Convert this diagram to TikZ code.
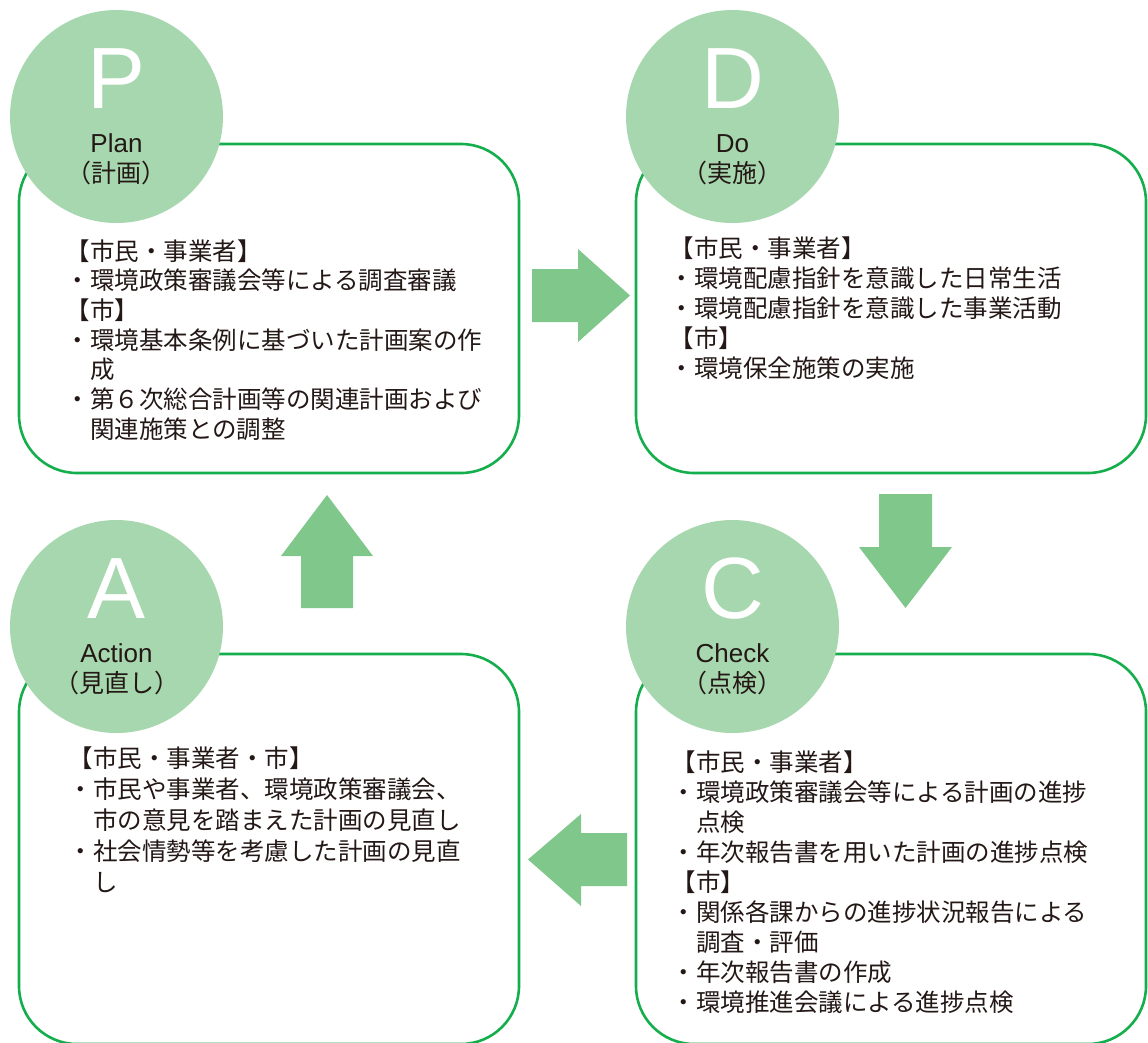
\documentclass[tikz,border=0pt]{standalone}
\usepackage{fontspec}
\setmainfont{Noto Sans CJK JP}
\newfontfamily\latinfont{Liberation Sans}
\definecolor{circfill}{RGB}{167,215,174}
\definecolor{arrfill}{RGB}{127,199,139}
\definecolor{boxline}{RGB}{20,174,76}
\definecolor{ink}{RGB}{35,24,21}
\begin{document}
\begin{tikzpicture}[x=1pt,y=-1pt,
  pbox/.style={draw=boxline, line width=2.6pt, rounded corners=58pt, inner sep=0pt, outer sep=0pt, fill=white},
  pcirc/.style={circle, fill=circfill, minimum size=213pt, inner sep=0pt},
  bigletter/.style={font=\latinfont\fontsize{87}{87}\selectfont, text=white, inner sep=0pt, anchor=base},
  engname/.style={font=\latinfont\fontsize{26}{30}\selectfont, text=ink, inner sep=0pt, anchor=base},
  jpname/.style={font=\fontsize{25}{30}\selectfont, text=ink, inner sep=0pt, anchor=base},
  bodytext/.style={font=\fontsize{24.5}{30}\selectfont, text=ink, inner sep=0pt, anchor=base west},
  blockarrow/.style={fill=arrfill, draw=none}]
\useasboundingbox (0,0) rectangle (1148,1042);

% boxes
\node[pbox, minimum width=500pt, minimum height=329pt] (Pbox) at (269,308.5) {};
\node[pbox, minimum width=510pt, minimum height=329pt] (Dbox) at (891,308.5) {};
\node[pbox, minimum width=500pt, minimum height=390pt] (Abox) at (269,849) {};
\node[pbox, minimum width=510pt, minimum height=390pt] (Cbox) at (891,849) {};

% circles
\node[pcirc] (Pc) at (116.5,116.5) {};
\node[pcirc] (Dc) at (732.5,116.5) {};
\node[pcirc] (Ac) at (116.5,626.5) {};
\node[pcirc] (Cc) at (732.5,626.5) {};

\node[bigletter] (Pl) at (116.5,108) {P};
\node[engname] (Pe) at (116.5,152) {Plan};
\node[jpname] (Pj) at (116.5,182.5) {（計画）};

\node[bigletter] (Dl) at (732.5,108) {D};
\node[engname] (De) at (732.5,152) {Do};
\node[jpname] (Dj) at (732.5,182.5) {（実施）};

\node[bigletter] (Al) at (116.5,618) {A};
\node[engname] (Ae) at (116.5,662) {Action};
\node[jpname] (Aj) at (116.5,692.5) {（見直し）};

\node[bigletter] (Cl) at (732.5,618) {C};
\node[engname] (Ce) at (732.5,662) {Check};
\node[jpname] (Cj) at (732.5,692.5) {（点検）};

% body texts
\foreach \t [count=\i] in {【市民・事業者】,・環境政策審議会等による調査審議,【市】,・環境基本条例に基づいた計画案の作,　成,・第６次総合計画等の関連計画および,　関連施策との調整}
  \node[bodytext] (pt\i) at (65.5,{260+29.7*(\i-1)}) {\t};

\foreach \t [count=\i] in {【市民・事業者】,・環境配慮指針を意識した日常生活,・環境配慮指針を意識した事業活動,【市】,・環境保全施策の実施}
  \node[bodytext] (dt\i) at (669.5,{257+30*(\i-1)}) {\t};

\foreach \t [count=\i] in {【市民・事業者】,・環境政策審議会等による計画の進捗,　点検,・年次報告書を用いた計画の進捗点検,【市】,・関係各課からの進捗状況報告による,　調査・評価,・年次報告書の作成,・環境推進会議による進捗点検}
  \node[bodytext] (ct\i) at (671.5,{771+30.1*(\i-1)}) {\t};

\foreach \t [count=\i] in {【市民・事業者・市】,・市民や事業者、環境政策審議会、,　市の意見を踏まえた計画の見直し,・社会情勢等を考慮した計画の見直,　し}
  \node[bodytext] (at\i) at (68.5,{767+31*(\i-1)}) {\t};

% block arrows
\fill[blockarrow] (532,269) -- (578,269) -- (578,249) -- (630,295.5) -- (578,342) -- (578,322) -- (532,322) -- cycle;
\fill[blockarrow] (879,494) -- (932,494) -- (932,547) -- (952,547) -- (905.5,608) -- (859,547) -- (879,547) -- cycle;
\fill[blockarrow] (301,608) -- (353,608) -- (353,556) -- (373,556) -- (327,495) -- (281,556) -- (301,556) -- cycle;
\fill[blockarrow] (627,833) -- (581,833) -- (581,814) -- (528,859.5) -- (581,906) -- (581,886) -- (627,886) -- cycle;
\end{tikzpicture}
\end{document}
